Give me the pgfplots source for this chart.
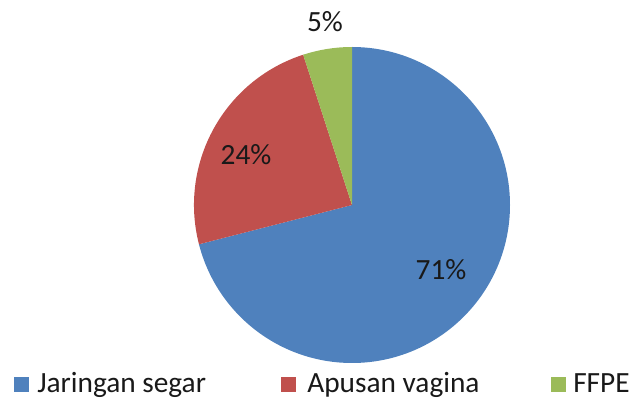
\documentclass[border=0pt]{standalone}
\usepackage{pgfplots}
\pgfplotsset{compat=1.18}
\usepackage{pgfplotstable}
\usepackage{fontspec}
\setmainfont{Carlito}
\definecolor{cblue}{HTML}{4F81BD}
\definecolor{cred}{HTML}{C0504D}
\definecolor{cgreen}{HTML}{9BBB59}
\pgfplotstableread{
label value
Jaringan 71
Apusan 24
FFPE 5
}\piedata
\begin{document}
\begin{tikzpicture}
\begin{axis}[
  scale only axis, width=477pt, height=300pt,
  xmin=0, xmax=636, ymin=0, ymax=400,
  hide axis, clip=false]
\path (axis cs:0,0) rectangle (axis cs:636,400);
\pgfplotstablegetelem{0}{value}\of\piedata \let\va\pgfplotsretval
\pgfplotstablegetelem{1}{value}\of\piedata \let\vb\pgfplotsretval
\pgfplotstablegetelem{2}{value}\of\piedata \let\vc\pgfplotsretval
\pgfmathsetmacro{\aA}{90}
\pgfmathsetmacro{\aB}{90-3.6*\va}
\pgfmathsetmacro{\aC}{\aB-3.6*\vb}
\pgfmathsetmacro{\aD}{\aC-3.6*\vc}
\fill[cblue] (axis cs:352,195) -- ++(\aA:118.5pt) arc[start angle=\aA, end angle=\aB, radius=118.5pt] -- cycle;
\fill[cred] (axis cs:352,195) -- ++(\aB:118.5pt) arc[start angle=\aB, end angle=\aC, radius=118.5pt] -- cycle;
\fill[cgreen] (axis cs:352,195) -- ++(\aC:118.5pt) arc[start angle=\aC, end angle=\aD, radius=118.5pt] -- cycle;
\node[anchor=base, font=\fontsize{22}{24}\selectfont, inner sep=0pt, text=black!90] at (axis cs:441,120) {71\%};
\node[anchor=base, font=\fontsize{22}{24}\selectfont, inner sep=0pt, text=black!90] at (axis cs:246,235) {24\%};
\node[anchor=base, font=\fontsize{22}{24}\selectfont, inner sep=0pt, text=black!90] at (axis cs:325,368) {5\%};
% legend
\fill[cblue] (axis cs:14,8) rectangle (axis cs:29,23);
\fill[cred] (axis cs:281,8) rectangle (axis cs:296,23);
\fill[cgreen] (axis cs:551,8) rectangle (axis cs:566,23);
\node[anchor=base west, font=\fontsize{22}{24}\selectfont, inner sep=0pt, text=black!90] at (axis cs:37,7.3) {Jaringan segar};
\node[anchor=base west, font=\fontsize{22}{24}\selectfont, inner sep=0pt, text=black!90] at (axis cs:307,7.3) {Apusan vagina};
\node[anchor=base west, font=\fontsize{22}{24}\selectfont, inner sep=0pt, text=black!90] at (axis cs:573,7.3) {FFPE};
\end{axis}
\end{tikzpicture}
\end{document}
